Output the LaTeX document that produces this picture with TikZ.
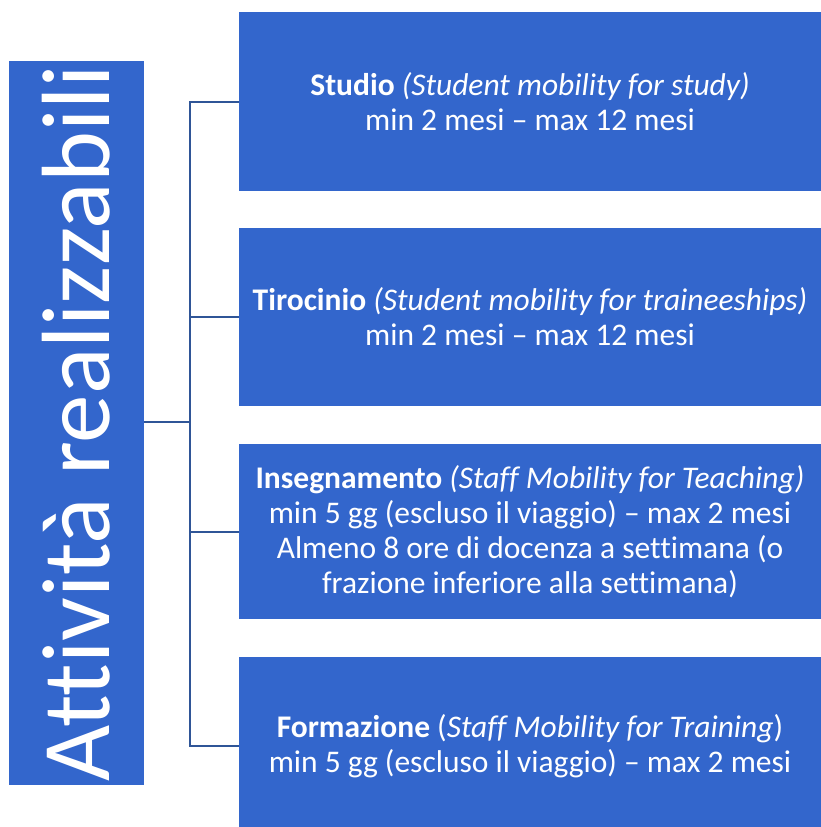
\documentclass[tikz,border=0pt]{standalone}
\usepackage{fontspec}
\setmainfont[Ligatures=NoCommon]{Carlito}
\definecolor{boxblue}{HTML}{3366CC}
\definecolor{linkblue}{HTML}{2F5597}
\begin{document}
\begin{tikzpicture}[x=1pt,y=-1pt,
  actbox/.style={fill=boxblue,draw=none,text=white,align=center,minimum width=582pt,inner sep=0pt,font=\fontsize{31.5}{35}\selectfont},
  link/.style={draw=linkblue,line width=2pt}]
\useasboundingbox (0,0) rectangle (821,827);
\clip (0,0) rectangle (821,827);
\node[fill=boxblue,minimum width=135pt,minimum height=724pt,inner sep=0pt] (side) at (76.5,423) {};
\node[text=white,rotate=90,font=\fontsize{97}{100}\selectfont] (sidetext) at (side.center) {Attività realizzabili};
\node[actbox,minimum height=179pt] (b1) at (530,101.5) {\textbf{Studio} \textit{(Student mobility for study)}\\min 2 mesi – max 12 mesi};
\node[actbox,minimum height=178pt] (b2) at (530,317) {\textbf{Tirocinio} \textit{(Student mobility for traineeships)}\\min 2 mesi – max 12 mesi};
\node[actbox,minimum height=175pt] (b3) at (530,531.5) {\textbf{Insegnamento} \textit{(Staff Mobility for Teaching)}\\min 5 gg (escluso il viaggio) – max 2 mesi\\Almeno 8 ore di docenza a settimana (o\\frazione inferiore alla settimana)};
\node[actbox,minimum height=178pt] (b4) at (530,746) {\textbf{Formazione} (\textit{Staff Mobility for Training})\\min 5 gg (escluso il viaggio) – max 2 mesi};
\coordinate (j) at (190,422);
\draw[link] (side.east |- j) -- (j);
\draw[link] (b1.west) -- (190,101.5) -- (190,746) -- (b4.west);
\draw[link] (b2.west) -- (190,317);
\draw[link] (b3.west) -- (190,531.5);
\end{tikzpicture}
\end{document}
